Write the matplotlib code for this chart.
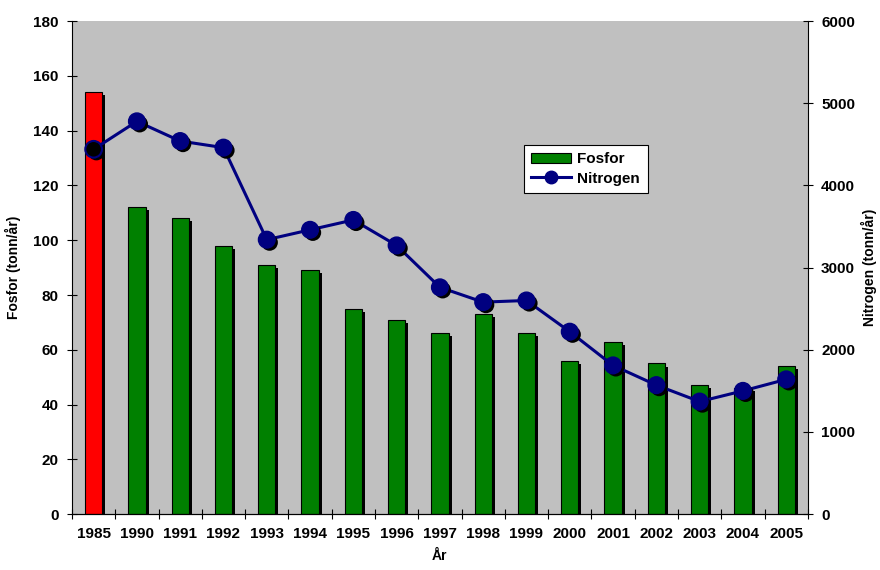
import numpy as np
import matplotlib
matplotlib.use('Agg')
import matplotlib.pyplot as plt
import matplotlib.patheffects as pe
from matplotlib.patches import Patch
from matplotlib.lines import Line2D

years = ['1985', '1990', '1991', '1992', '1993', '1994', '1995', '1996', '1997',
         '1998', '1999', '2000', '2001', '2002', '2003', '2004', '2005']
fosfor = [154, 112, 108, 98, 91, 89, 75, 71, 66, 73, 66, 56, 63, 55, 47, 46, 54]
nitrogen = [4440, 4780, 4540, 4460, 3340, 3460, 3580, 3270, 2760,
            2580, 2600, 2220, 1810, 1570, 1370, 1500, 1640]

plt.rcParams['font.family'] = ['Liberation Sans', 'DejaVu Sans']
plt.rcParams['font.weight'] = 'bold'

fig = plt.figure(figsize=(8.8, 5.7), dpi=100)
ax = fig.add_subplot(111)
fig.subplots_adjust(left=0.0818, right=0.918, top=0.963, bottom=0.098)
ax.set_facecolor('#c0c0c0')

xs = np.arange(len(years))
colors = ['#ff0000'] + ['#008000'] * (len(years) - 1)
shadow = [pe.SimplePatchShadow(offset=(2.2, -2.2), shadow_rgbFace='black', alpha=1.0),
          pe.Normal()]
bars = ax.bar(xs, fosfor, width=0.4, color=colors, edgecolor='black', linewidth=0.8)
for b in bars:
    b.set_path_effects(shadow)

ax.set_xlim(-0.5, len(years) - 0.5)
ax.set_ylim(0, 180)
ax.set_yticks(np.arange(0, 181, 20))
ax.set_xticks(np.arange(-0.5, len(years), 1.0))
ax.set_xticklabels([])
ax.set_xticks(xs, minor=True)
ax.set_xticklabels(years, minor=True)
ax.tick_params(axis='x', which='minor', length=0, pad=9, labelsize=11)
ax.tick_params(axis='x', which='major', direction='inout', length=7, width=0.8)
ax.tick_params(axis='y', direction='inout', length=7, width=0.8, labelsize=11, pad=6)
ax.spines['top'].set_visible(False)
ax.spines['right'].set_visible(False)
ax.set_ylabel('Fosfor (tonn/år)', fontsize=10, fontweight='bold', labelpad=9)
ax.set_xlabel('År', fontsize=10, fontweight='bold', labelpad=6)

ax2 = ax.twinx()
ax2.set_ylim(0, 6000)
ax2.set_yticks(np.arange(0, 6001, 1000))
ax2.tick_params(axis='y', direction='inout', length=7, width=0.8, labelsize=11, pad=6)
ax2.spines['top'].set_visible(False)
ax2.spines['left'].set_visible(False)
ax2.set_ylabel('Nitrogen (tonn/år)', fontsize=10, fontweight='bold', labelpad=4)

ax2.plot(xs, nitrogen, color='#000080', linewidth=2.2)
mk_shadow = [pe.SimplePatchShadow(offset=(2, -2), shadow_rgbFace='black', alpha=1.0),
             pe.Normal()]
m = ax2.plot(xs[1:], nitrogen[1:], linestyle='none', marker='o', markersize=12,
             color='#000080', markeredgecolor='#000080')[0]
m.set_path_effects(mk_shadow)
m0 = ax2.plot(xs[:1], nitrogen[:1], linestyle='none', marker='o', markersize=12,
              markerfacecolor='black', markeredgecolor='#000080', markeredgewidth=1.5)[0]
m0.set_path_effects(mk_shadow)

handles = [Patch(facecolor='#008000', edgecolor='black', linewidth=0.8),
           Line2D([], [], color='#000080', linewidth=2.2, marker='o', markersize=9)]
leg = ax2.legend(handles, ['Fosfor', 'Nitrogen'], loc='upper left',
                 bbox_to_anchor=(0.614, 0.749), fancybox=False, framealpha=1,
                 edgecolor='black', fontsize=11, borderpad=0.5, handlelength=2.6,
                 handletextpad=0.4, labelspacing=0.35, borderaxespad=0)
leg.get_frame().set_linewidth(0.8)

fig.savefig('out.png', dpi=100)
